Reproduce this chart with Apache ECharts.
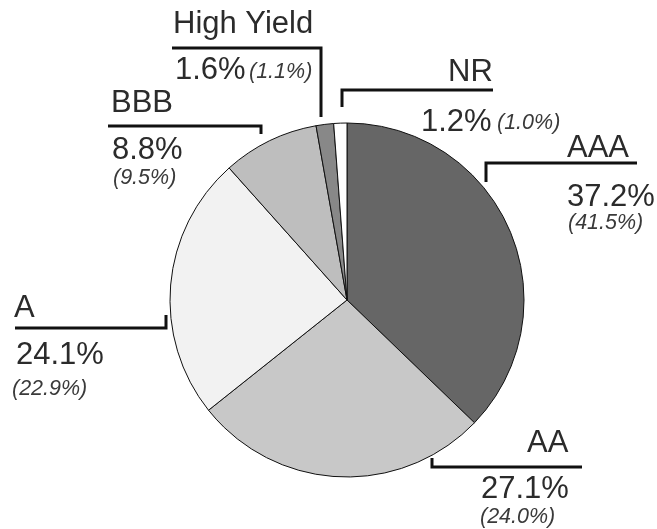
<!DOCTYPE html>
<html><head><meta charset="utf-8">
<script src="https://cdn.jsdelivr.net/npm/echarts@6/dist/echarts.min.js"></script>
<style>html,body{margin:0;padding:0;background:#fff}#c{width:657px;height:529px}</style>
</head><body><div id="c"></div>
<script>
const categories = ['AAA', 'AA', 'A', 'BBB', 'High Yield', 'NR'];
const values = [37.2, 27.1, 24.1, 8.8, 1.6, 1.2];
const priorValues = [41.5, 24.0, 22.9, 9.5, 1.1, 1.0];
const colors = ['#666666', '#c8c8c8', '#f2f2f2', '#bebebe', '#888888', '#ffffff'];

// annotation layout (per category): bracket line, name position, value position, prior position
const layout = {
  'AAA':        {line: [[486,182],[486,163],[637,163]], name: [567,148], val: [567,197], prior: [568,223]},
  'AA':         {line: [[432,458],[432,467],[582,467]], name: [527,443], val: [481,489], prior: [480,517]},
  'A':          {line: [[15,328],[166,328],[166,315]],  name: [14,308],  val: [16,355],  prior: [12,389]},
  'BBB':        {line: [[108,126],[261,126],[261,134]], name: [111,103], val: [112,150], prior: [113,178]},
  'High Yield': {line: [[172,48],[321,48],[321,117]],  name: [173,24],  val: [175,70],  prior: [249,72]},
  'NR':         {line: [[342,107],[342,90],[493,90]],  name: [448,72],  val: [421,122], prior: [497,123]}
};

const fmt = v => v.toFixed(1) + '%';
const bigFont = '31px "Liberation Sans", Arial, sans-serif';
const smallFont = 'italic 21.5px "Liberation Sans", Arial, sans-serif';
const graphics = [];
categories.forEach((c, i) => {
  const L = layout[c];
  graphics.push({type: 'polyline', shape: {points: L.line}, style: {stroke: '#111', lineWidth: 3, fill: null}, z: 10});
  graphics.push({type: 'text', x: L.name[0], y: L.name[1], style: {text: c, font: bigFont, fill: '#2b2b2b', verticalAlign: 'middle', align: 'left'}, z: 10});
  graphics.push({type: 'text', x: L.val[0], y: L.val[1], style: {text: fmt(values[i]), font: bigFont, fill: '#2b2b2b', verticalAlign: 'middle', align: 'left'}, z: 10});
  graphics.push({type: 'text', x: L.prior[0], y: L.prior[1], style: {text: '(' + fmt(priorValues[i]) + ')', font: smallFont, fill: '#3a3a3a', verticalAlign: 'middle', align: 'left'}, z: 10});
});

const chart = echarts.init(document.getElementById('c'), null, {renderer: 'canvas'});
chart.setOption({
  animation: false,
  backgroundColor: '#fff',
  series: [{
    type: 'pie',
    center: [347, 300],
    radius: 177,
    startAngle: 90,
    clockwise: true,
    silent: true,
    label: {show: false},
    labelLine: {show: false},
    itemStyle: {borderColor: '#111', borderWidth: 1},
    data: categories.map((c, i) => ({name: c, value: values[i], itemStyle: {color: colors[i]}}))
  }],
  graphic: graphics
});
</script></body></html>
